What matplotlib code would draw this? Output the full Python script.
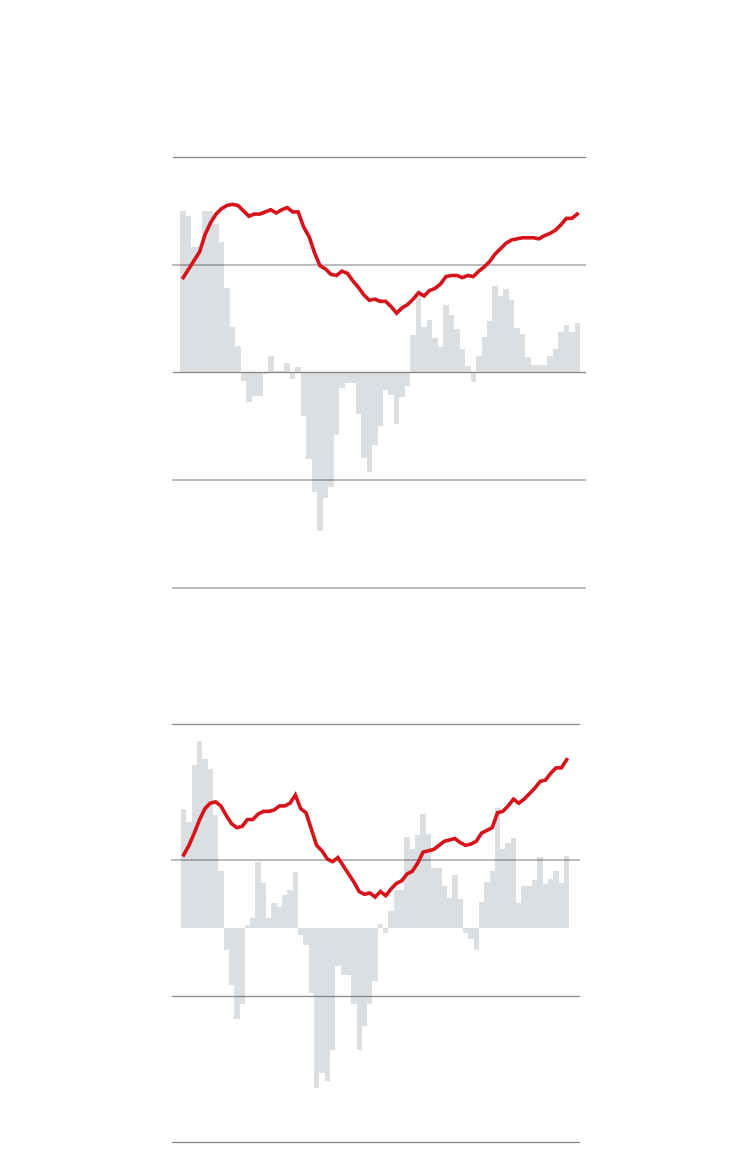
"""
Two stacked panels: grey monthly bars with a red level line on top.
"""

import numpy as np
import matplotlib
matplotlib.use("Agg")
import matplotlib.pyplot as plt

# ---- data ----
p1_line = [8.8, 9.6, 10.4, 11.2, 12.8, 13.9, 14.7, 15.2, 15.5, 15.6,
           15.5, 15.0, 14.5, 14.7, 14.7, 14.9, 15.1, 14.8, 15.1, 15.3,
           14.9, 14.9, 13.5, 12.6, 11.1, 9.9, 9.6, 9.1, 9.0, 9.4,
           9.2, 8.5, 7.9, 7.2, 6.7, 6.8, 6.6, 6.6, 6.1, 5.5,
           6.0, 6.3, 6.8, 7.4, 7.1, 7.6, 7.8, 8.2, 8.9, 9.0,
           9.0, 8.8, 9.0, 8.9, 9.4, 9.8, 10.3, 11.0, 11.5, 12.0,
           12.3, 12.4, 12.5, 12.5, 12.5, 12.4, 12.7, 12.9, 13.2, 13.7,
           14.3, 14.3, 14.7]
p1_bars = [15.0, 14.5, 11.6, 11.6, 15.0, 15.0, 13.8, 12.1, 7.8, 4.2,
           2.5, -0.8, -2.7, -2.2, -2.2, -0.1, 1.5, 0.1, 0.1, 0.9,
           -0.6, 0.5, -4.0, -8.0, -11.1, -14.7, -11.7, -10.6, -5.8, -1.4,
           -1.0, -1.0, -3.9, -7.9, -9.2, -6.7, -5.0, -1.6, -2.1, -4.8,
           -2.3, -1.3, 3.5, 7.1, 4.2, 4.9, 3.2, 2.4, 6.3, 5.3,
           4.0, 2.2, 0.6, -0.9, 1.5, 3.3, 4.8, 8.0, 7.1, 7.7,
           6.7, 4.1, 3.6, 1.4, 0.7, 0.7, 0.7, 1.5, 2.2, 3.8,
           4.4, 3.8, 4.6]
p2_line = [10.4, 11.1, 12.0, 13.0, 13.8, 14.2, 14.3, 14.0, 13.3, 12.7,
           12.4, 12.5, 13.0, 13.0, 13.4, 13.6, 13.6, 13.7, 14.0, 14.0,
           14.2, 14.8, 13.8, 13.5, 12.3, 11.1, 10.7, 10.1, 9.9, 10.2,
           9.6, 9.0, 8.4, 7.7, 7.5, 7.6, 7.3, 7.7, 7.4, 7.9,
           8.3, 8.5, 9.0, 9.2, 9.8, 10.6, 10.7, 10.8, 11.1, 11.4,
           11.5, 11.6, 11.3, 11.1, 11.2, 11.4, 12.0, 12.2, 12.4, 13.5,
           13.6, 14.0, 14.5, 14.2, 14.5, 14.9, 15.3, 15.8, 15.9, 16.4,
           16.8, 16.8, 17.4]
p2_bars = [8.7, 7.8, 12.0, 13.7, 12.4, 11.7, 8.3, 4.2, -1.6, -4.2,
           -6.7, -5.6, 0.2, 0.7, 4.8, 3.3, 0.7, 1.8, 1.5, 2.4,
           2.8, 4.1, -0.5, -1.3, -4.8, -11.8, -10.7, -11.3, -9.0, -2.8,
           -3.5, -3.5, -5.6, -9.0, -7.2, -5.6, -3.9, 0.3, -0.4, 1.2,
           2.8, 2.8, 6.7, 5.8, 6.8, 8.4, 6.9, 4.4, 4.4, 3.1,
           2.2, 3.9, 2.1, -0.4, -0.8, -1.6, 1.9, 3.4, 4.2, 8.8,
           5.8, 6.2, 6.6, 1.8, 3.1, 3.1, 3.5, 5.2, 3.2, 3.6,
           4.2, 3.3, 5.3]

# gridlines: (value, style) per panel
p1_grid = [(20, "dark"), (10, "light"), (0, "dark"), (-10, "light"), (-20, "light")]
p2_grid = [(20, "dark"), (10, "light"), (0, "dark"), (-10.74, "dark")]

RED = "#d6121b"
GREY = "#dcdfe2"
GRID = {"dark": dict(color="#7a7a7a", lw=0.9, alpha=0.9),
        "light": dict(color="black", lw=1.4, alpha=0.27)}


def panel(fig, rect, bars, line, grid, xlim, bar_ylim, line_ylim):
    """bars on a lower axes, gridlines and line on an upper one"""
    n = len(bars)
    edges = np.arange(n + 1) - 0.5
    x = np.arange(n)

    ax_b = fig.add_axes(rect)
    ax_b.stairs(bars, edges, baseline=0, fill=True, color=GREY, lw=0)
    ax_b.set(xlim=xlim, ylim=bar_ylim)
    ax_b.axis("off")

    ax = fig.add_axes(rect)
    ax.patch.set_visible(False)
    for val, kind in grid:
        ax.axhline(val, zorder=2, clip_on=False, **GRID[kind])
    ax.plot(x, line, color=RED, lw=2.6, zorder=3, solid_joinstyle="miter")
    ax.set(xlim=xlim, ylim=line_ylim)
    ax.axis("off")


fig = plt.figure(figsize=(7.5, 11.74), dpi=100)

# top panel (bars and line share the same scale)
panel(fig, (0.2313, 0.4983, 0.5487, 0.368), p1_bars, p1_line, p1_grid,
      (-1.78, 73.41), (-20.1, 20), (-20.1, 20))

# bottom panel (bars on their own scale)
panel(fig, (0.2289, 0.027, 0.5431, 0.356), p2_bars, p2_line, p2_grid,
      (-2.25, 74.32), (-15.78, 14.96), (-10.74, 20))

fig.savefig("out.png", dpi=100)
